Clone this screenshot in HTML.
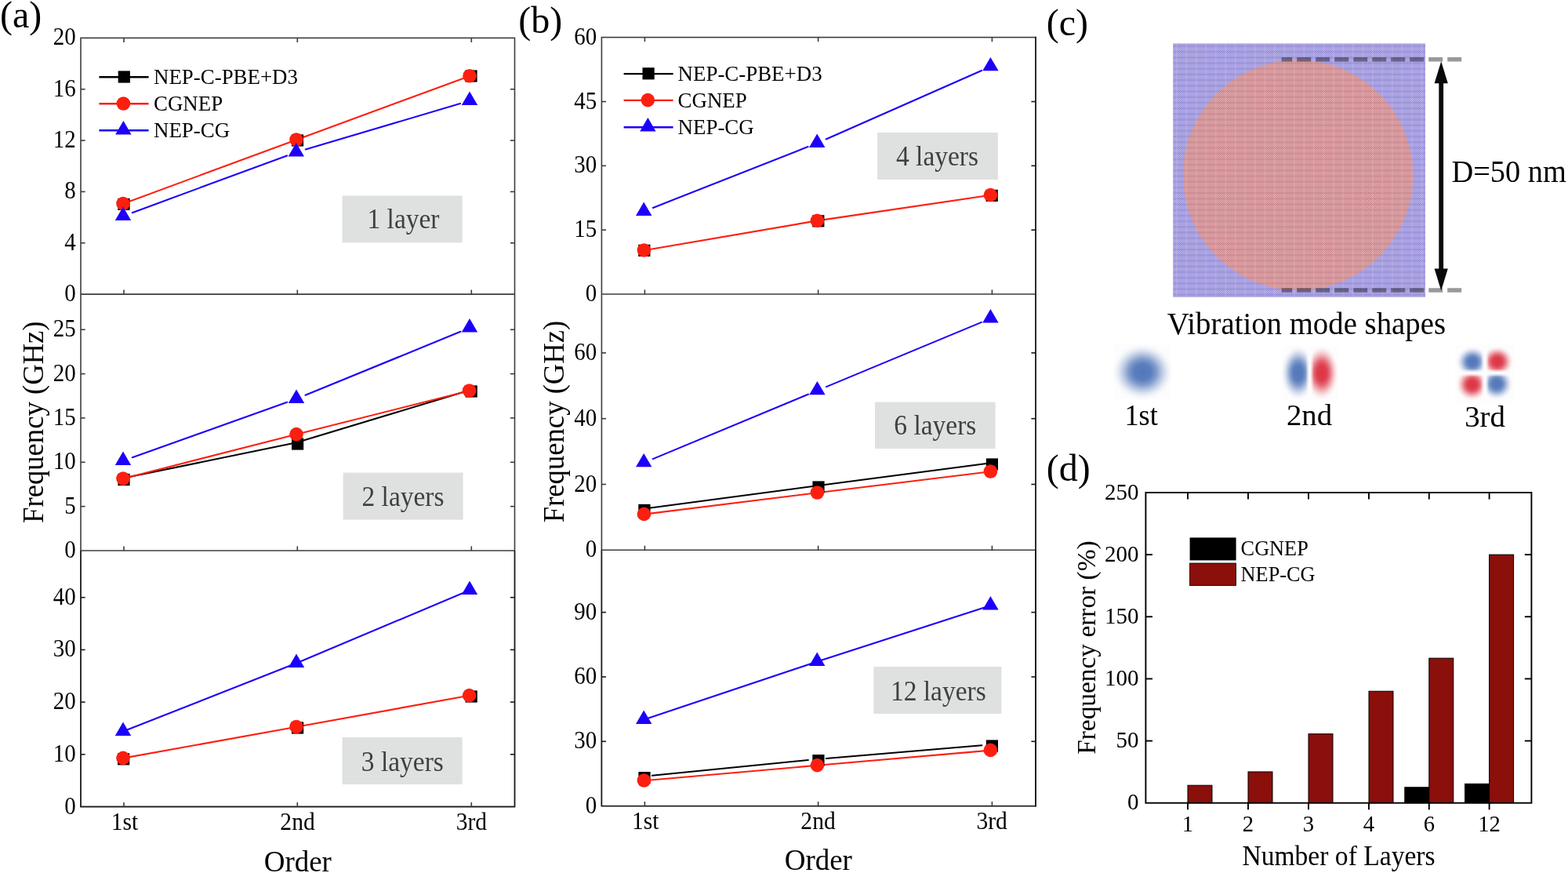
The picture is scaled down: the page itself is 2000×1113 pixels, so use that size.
<!DOCTYPE html>
<html lang="en">
<head>
<meta charset="utf-8">
<title>Figure: vibration frequencies</title>
<style>
html,body{margin:0;padding:0;background:#fff;}
body{width:2000px;height:1113px;overflow:hidden;}
svg{display:block;}
svg text{font-family:"Liberation Serif", serif;}
</style>
</head>
<body>
<svg width="2000" height="1113" viewBox="0 0 2000 1113" role="img" aria-label="Vibration frequency comparison figure">
<rect x="0" y="0" width="2000" height="1113" fill="#ffffff"/>

<defs>
<radialGradient id="gB" cx="50%" cy="50%" r="50%">
<stop offset="0" stop-color="#5277b9" stop-opacity="1"/>
<stop offset="0.28" stop-color="#5277b9" stop-opacity="0.95"/>
<stop offset="0.45" stop-color="#5277b9" stop-opacity="0.74"/>
<stop offset="0.62" stop-color="#5277b9" stop-opacity="0.42"/>
<stop offset="0.78" stop-color="#5277b9" stop-opacity="0.16"/>
<stop offset="0.9" stop-color="#5277b9" stop-opacity="0.04"/>
<stop offset="1" stop-color="#5277b9" stop-opacity="0"/>
</radialGradient>
<radialGradient id="gR" cx="50%" cy="50%" r="50%">
<stop offset="0" stop-color="#dc3444" stop-opacity="1"/>
<stop offset="0.28" stop-color="#dc3444" stop-opacity="0.95"/>
<stop offset="0.45" stop-color="#dc3444" stop-opacity="0.74"/>
<stop offset="0.62" stop-color="#dc3444" stop-opacity="0.42"/>
<stop offset="0.78" stop-color="#dc3444" stop-opacity="0.16"/>
<stop offset="0.9" stop-color="#dc3444" stop-opacity="0.04"/>
<stop offset="1" stop-color="#dc3444" stop-opacity="0"/>
</radialGradient>
<linearGradient id="nodV" x1="0" y1="0" x2="1" y2="0">
<stop offset="0" stop-color="#fdfdfe" stop-opacity="0"/>
<stop offset="0.35" stop-color="#fdfdfe" stop-opacity="0.75"/>
<stop offset="0.5" stop-color="#fdfdfe" stop-opacity="1"/>
<stop offset="0.65" stop-color="#fdfdfe" stop-opacity="0.75"/>
<stop offset="1" stop-color="#fdfdfe" stop-opacity="0"/>
</linearGradient>
<linearGradient id="nodH" x1="0" y1="0" x2="0" y2="1">
<stop offset="0" stop-color="#fdfdfe" stop-opacity="0"/>
<stop offset="0.35" stop-color="#fdfdfe" stop-opacity="0.75"/>
<stop offset="0.5" stop-color="#fdfdfe" stop-opacity="1"/>
<stop offset="0.65" stop-color="#fdfdfe" stop-opacity="0.75"/>
<stop offset="1" stop-color="#fdfdfe" stop-opacity="0"/>
</linearGradient>
<clipPath id="m2l"><rect x="1634.5" y="441" width="36" height="68.5"/></clipPath>
<clipPath id="m2r"><rect x="1670.5" y="441" width="36.3" height="68.5"/></clipPath>
<clipPath id="m3tl"><rect x="1856" y="439.5" width="38" height="36"/></clipPath>
<clipPath id="m3tr"><rect x="1894" y="439.5" width="38" height="36"/></clipPath>
<clipPath id="m3bl"><rect x="1856" y="475.5" width="38" height="38"/></clipPath>
<clipPath id="m3br"><rect x="1894" y="475.5" width="38" height="38"/></clipPath>
<pattern id="texP" width="2.5" height="2.5" patternUnits="userSpaceOnUse">
<rect x="0" y="0" width="1.25" height="1.25" fill="#5a4cc8" fill-opacity="0.42"/>
<rect x="1.25" y="1.25" width="1.25" height="1.25" fill="#5a4cc8" fill-opacity="0.42"/>
<rect x="1.25" y="0" width="1.25" height="1.25" fill="#ffffff" fill-opacity="0.40"/>
<rect x="0" y="1.25" width="1.25" height="1.25" fill="#ffffff" fill-opacity="0.40"/>
</pattern>
<pattern id="texR" width="2.5" height="2.5" patternUnits="userSpaceOnUse">
<rect x="0" y="0" width="1.25" height="1.25" fill="#a83c46" fill-opacity="0.42"/>
<rect x="1.25" y="1.25" width="1.25" height="1.25" fill="#a83c46" fill-opacity="0.42"/>
<rect x="1.25" y="0" width="1.25" height="1.25" fill="#ffffff" fill-opacity="0.40"/>
<rect x="0" y="1.25" width="1.25" height="1.25" fill="#ffffff" fill-opacity="0.40"/>
</pattern>
<pattern id="texV" width="12.5" height="7.2" patternUnits="userSpaceOnUse">
<rect x="0" y="0" width="12.5" height="2.6" fill="#1a0a60" fill-opacity="0.09"/>
<rect x="0" y="0" width="1.5" height="7.2" fill="#ffffff" fill-opacity="0.12"/>
</pattern>
<pattern id="texVR" width="12.5" height="7.2" patternUnits="userSpaceOnUse">
<rect x="0" y="0" width="12.5" height="2.6" fill="#7a1020" fill-opacity="0.09"/>
<rect x="0" y="0" width="1.5" height="7.2" fill="#ffffff" fill-opacity="0.12"/>
</pattern>
<clipPath id="sqclip"><rect x="1496.3" y="55.5" width="321.7" height="323.2"/></clipPath>
</defs>

<rect x="103.0" y="48.4" width="553.50" height="980.10" fill="none" stroke="#3c3c3c" stroke-width="1.6"/>
<line x1="103.00" y1="375.10" x2="656.50" y2="375.10" stroke="#3c3c3c" stroke-width="1.6" />
<line x1="103.00" y1="702.00" x2="656.50" y2="702.00" stroke="#3c3c3c" stroke-width="1.6" />
<path d="M103.0,702.0 L103.0,1028.5 L656.5,1028.5 L656.5,702.0" fill="none" stroke="#1a1a1a" stroke-width="1.4"/>
<line x1="158.00" y1="48.40" x2="158.00" y2="54.00" stroke="#3c3c3c" stroke-width="1.6" />
<line x1="158.00" y1="375.10" x2="158.00" y2="369.50" stroke="#3c3c3c" stroke-width="1.6" />
<line x1="158.00" y1="702.00" x2="158.00" y2="696.40" stroke="#3c3c3c" stroke-width="1.6" />
<line x1="158.00" y1="1028.50" x2="158.00" y2="1022.90" stroke="#3c3c3c" stroke-width="1.6" />
<line x1="379.30" y1="48.40" x2="379.30" y2="54.00" stroke="#3c3c3c" stroke-width="1.6" />
<line x1="379.30" y1="375.10" x2="379.30" y2="369.50" stroke="#3c3c3c" stroke-width="1.6" />
<line x1="379.30" y1="702.00" x2="379.30" y2="696.40" stroke="#3c3c3c" stroke-width="1.6" />
<line x1="379.30" y1="1028.50" x2="379.30" y2="1022.90" stroke="#3c3c3c" stroke-width="1.6" />
<line x1="601.30" y1="48.40" x2="601.30" y2="54.00" stroke="#3c3c3c" stroke-width="1.6" />
<line x1="601.30" y1="375.10" x2="601.30" y2="369.50" stroke="#3c3c3c" stroke-width="1.6" />
<line x1="601.30" y1="702.00" x2="601.30" y2="696.40" stroke="#3c3c3c" stroke-width="1.6" />
<line x1="601.30" y1="1028.50" x2="601.30" y2="1022.90" stroke="#3c3c3c" stroke-width="1.6" />
<text transform="translate(96.80,384.10) scale(0.92,1)" font-size="31.5" text-anchor="end" fill="#000" >0</text>
<line x1="103.00" y1="309.76" x2="108.60" y2="309.76" stroke="#3c3c3c" stroke-width="1.6" />
<line x1="656.50" y1="309.76" x2="650.90" y2="309.76" stroke="#3c3c3c" stroke-width="1.6" />
<text transform="translate(96.80,318.76) scale(0.92,1)" font-size="31.5" text-anchor="end" fill="#000" >4</text>
<line x1="103.00" y1="244.42" x2="108.60" y2="244.42" stroke="#3c3c3c" stroke-width="1.6" />
<line x1="656.50" y1="244.42" x2="650.90" y2="244.42" stroke="#3c3c3c" stroke-width="1.6" />
<text transform="translate(96.80,253.42) scale(0.92,1)" font-size="31.5" text-anchor="end" fill="#000" >8</text>
<line x1="103.00" y1="179.08" x2="108.60" y2="179.08" stroke="#3c3c3c" stroke-width="1.6" />
<line x1="656.50" y1="179.08" x2="650.90" y2="179.08" stroke="#3c3c3c" stroke-width="1.6" />
<text transform="translate(96.80,188.08) scale(0.92,1)" font-size="31.5" text-anchor="end" fill="#000" >12</text>
<line x1="103.00" y1="113.74" x2="108.60" y2="113.74" stroke="#3c3c3c" stroke-width="1.6" />
<line x1="656.50" y1="113.74" x2="650.90" y2="113.74" stroke="#3c3c3c" stroke-width="1.6" />
<text transform="translate(96.80,122.74) scale(0.92,1)" font-size="31.5" text-anchor="end" fill="#000" >16</text>
<text transform="translate(96.80,57.40) scale(0.92,1)" font-size="31.5" text-anchor="end" fill="#000" >20</text>
<line x1="157.00" y1="259.80" x2="378.00" y2="178.20" stroke="#fc1f10" stroke-width="2.1" stroke-linecap="round"/>
<line x1="378.00" y1="178.20" x2="599.00" y2="97.00" stroke="#fc1f10" stroke-width="2.1" stroke-linecap="round"/>
<line x1="168.73" y1="271.18" x2="366.07" y2="198.42" stroke="#1d00fa" stroke-width="2.1" stroke-linecap="round"/>
<line x1="389.78" y1="190.55" x2="587.02" y2="132.05" stroke="#1d00fa" stroke-width="2.1" stroke-linecap="round"/>
<rect x="150.40" y="252.80" width="15.2" height="15.2" fill="#000000"/>
<rect x="371.90" y="171.40" width="15.2" height="15.2" fill="#000000"/>
<rect x="593.40" y="89.40" width="15.2" height="15.2" fill="#000000"/>
<circle cx="157.00" cy="259.60" r="8.8" fill="#fc1f10"/>
<circle cx="378.00" cy="178.00" r="8.8" fill="#fc1f10"/>
<circle cx="599.00" cy="96.80" r="8.8" fill="#fc1f10"/>
<polygon points="157.00,263.50 146.80,280.90 167.20,280.90" fill="#1d00fa"/>
<polygon points="377.80,182.10 367.60,199.50 388.00,199.50" fill="#1d00fa"/>
<polygon points="599.00,116.50 588.80,133.90 609.20,133.90" fill="#1d00fa"/>
<rect x="436.6" y="249.5" width="153.10" height="59.90" fill="#dfe0e0"/>
<text transform="translate(514.50,290.80) scale(0.96,1)" font-size="34.9" text-anchor="middle" fill="#404040" >1 layer</text>
<text transform="translate(96.80,711.00) scale(0.92,1)" font-size="31.5" text-anchor="end" fill="#000" >0</text>
<line x1="103.00" y1="645.65" x2="108.60" y2="645.65" stroke="#3c3c3c" stroke-width="1.6" />
<line x1="656.50" y1="645.65" x2="650.90" y2="645.65" stroke="#3c3c3c" stroke-width="1.6" />
<text transform="translate(96.80,654.65) scale(0.92,1)" font-size="31.5" text-anchor="end" fill="#000" >5</text>
<line x1="103.00" y1="589.30" x2="108.60" y2="589.30" stroke="#3c3c3c" stroke-width="1.6" />
<line x1="656.50" y1="589.30" x2="650.90" y2="589.30" stroke="#3c3c3c" stroke-width="1.6" />
<text transform="translate(96.80,598.30) scale(0.92,1)" font-size="31.5" text-anchor="end" fill="#000" >10</text>
<line x1="103.00" y1="532.95" x2="108.60" y2="532.95" stroke="#3c3c3c" stroke-width="1.6" />
<line x1="656.50" y1="532.95" x2="650.90" y2="532.95" stroke="#3c3c3c" stroke-width="1.6" />
<text transform="translate(96.80,541.95) scale(0.92,1)" font-size="31.5" text-anchor="end" fill="#000" >15</text>
<line x1="103.00" y1="476.60" x2="108.60" y2="476.60" stroke="#3c3c3c" stroke-width="1.6" />
<line x1="656.50" y1="476.60" x2="650.90" y2="476.60" stroke="#3c3c3c" stroke-width="1.6" />
<text transform="translate(96.80,485.60) scale(0.92,1)" font-size="31.5" text-anchor="end" fill="#000" >20</text>
<line x1="103.00" y1="420.25" x2="108.60" y2="420.25" stroke="#3c3c3c" stroke-width="1.6" />
<line x1="656.50" y1="420.25" x2="650.90" y2="420.25" stroke="#3c3c3c" stroke-width="1.6" />
<text transform="translate(96.80,429.25) scale(0.92,1)" font-size="31.5" text-anchor="end" fill="#000" >25</text>
<line x1="156.40" y1="609.80" x2="378.00" y2="564.30" stroke="#000000" stroke-width="2.1" stroke-linecap="round"/>
<line x1="378.00" y1="564.30" x2="599.60" y2="497.30" stroke="#000000" stroke-width="2.1" stroke-linecap="round"/>
<line x1="157.00" y1="610.20" x2="378.00" y2="553.80" stroke="#fc1f10" stroke-width="2.1" stroke-linecap="round"/>
<line x1="378.00" y1="553.80" x2="598.60" y2="498.20" stroke="#fc1f10" stroke-width="2.1" stroke-linecap="round"/>
<line x1="168.77" y1="583.29" x2="366.23" y2="512.71" stroke="#1d00fa" stroke-width="2.1" stroke-linecap="round"/>
<line x1="389.57" y1="503.77" x2="587.43" y2="422.83" stroke="#1d00fa" stroke-width="2.1" stroke-linecap="round"/>
<rect x="150.40" y="603.90" width="15.2" height="15.2" fill="#000000"/>
<rect x="372.00" y="558.40" width="15.2" height="15.2" fill="#000000"/>
<rect x="593.60" y="491.40" width="15.2" height="15.2" fill="#000000"/>
<circle cx="157.00" cy="610.00" r="8.8" fill="#fc1f10"/>
<circle cx="378.00" cy="553.60" r="8.8" fill="#fc1f10"/>
<circle cx="598.60" cy="498.00" r="8.8" fill="#fc1f10"/>
<polygon points="157.00,575.50 146.80,592.90 167.20,592.90" fill="#1d00fa"/>
<polygon points="378.00,496.50 367.80,513.90 388.20,513.90" fill="#1d00fa"/>
<polygon points="599.00,406.10 588.80,423.50 609.20,423.50" fill="#1d00fa"/>
<rect x="437.6" y="602.6" width="153.00" height="60.00" fill="#dfe0e0"/>
<text transform="translate(514.00,645.00) scale(0.96,1)" font-size="34.9" text-anchor="middle" fill="#404040" >2 layers</text>
<text transform="translate(96.80,1037.50) scale(0.92,1)" font-size="31.5" text-anchor="end" fill="#000" >0</text>
<line x1="103.00" y1="961.80" x2="108.60" y2="961.80" stroke="#1a1a1a" stroke-width="1.6" />
<line x1="656.50" y1="961.80" x2="650.90" y2="961.80" stroke="#1a1a1a" stroke-width="1.6" />
<text transform="translate(96.80,970.80) scale(0.92,1)" font-size="31.5" text-anchor="end" fill="#000" >10</text>
<line x1="103.00" y1="895.10" x2="108.60" y2="895.10" stroke="#1a1a1a" stroke-width="1.6" />
<line x1="656.50" y1="895.10" x2="650.90" y2="895.10" stroke="#1a1a1a" stroke-width="1.6" />
<text transform="translate(96.80,904.10) scale(0.92,1)" font-size="31.5" text-anchor="end" fill="#000" >20</text>
<line x1="103.00" y1="828.40" x2="108.60" y2="828.40" stroke="#1a1a1a" stroke-width="1.6" />
<line x1="656.50" y1="828.40" x2="650.90" y2="828.40" stroke="#1a1a1a" stroke-width="1.6" />
<text transform="translate(96.80,837.40) scale(0.92,1)" font-size="31.5" text-anchor="end" fill="#000" >30</text>
<line x1="103.00" y1="761.70" x2="108.60" y2="761.70" stroke="#1a1a1a" stroke-width="1.6" />
<line x1="656.50" y1="761.70" x2="650.90" y2="761.70" stroke="#1a1a1a" stroke-width="1.6" />
<text transform="translate(96.80,770.70) scale(0.92,1)" font-size="31.5" text-anchor="end" fill="#000" >40</text>
<line x1="157.00" y1="966.60" x2="378.00" y2="926.70" stroke="#fc1f10" stroke-width="2.1" stroke-linecap="round"/>
<line x1="378.00" y1="926.70" x2="598.60" y2="886.80" stroke="#fc1f10" stroke-width="2.1" stroke-linecap="round"/>
<line x1="157.00" y1="932.50" x2="378.00" y2="845.50" stroke="#1d00fa" stroke-width="2.1" stroke-linecap="round"/>
<line x1="378.00" y1="845.50" x2="599.00" y2="752.50" stroke="#1d00fa" stroke-width="2.1" stroke-linecap="round"/>
<rect x="150.00" y="960.20" width="15.2" height="15.2" fill="#000000"/>
<rect x="372.00" y="920.40" width="15.2" height="15.2" fill="#000000"/>
<rect x="593.60" y="880.40" width="15.2" height="15.2" fill="#000000"/>
<circle cx="157.00" cy="966.40" r="8.8" fill="#fc1f10"/>
<circle cx="378.00" cy="926.50" r="8.8" fill="#fc1f10"/>
<circle cx="598.60" cy="886.60" r="8.8" fill="#fc1f10"/>
<polygon points="157.00,920.50 146.80,937.90 167.20,937.90" fill="#1d00fa"/>
<polygon points="378.00,833.50 367.80,850.90 388.20,850.90" fill="#1d00fa"/>
<polygon points="599.00,740.50 588.80,757.90 609.20,757.90" fill="#1d00fa"/>
<rect x="436.6" y="940.0" width="153.00" height="60.00" fill="#dfe0e0"/>
<text transform="translate(513.30,982.60) scale(0.96,1)" font-size="34.9" text-anchor="middle" fill="#404040" >3 layers</text>
<text transform="translate(159.00,1057.90) scale(0.94,1)" font-size="31.4" text-anchor="middle" fill="#000" >1st</text>
<text transform="translate(379.50,1057.90) scale(0.94,1)" font-size="31.4" text-anchor="middle" fill="#000" >2nd</text>
<text transform="translate(601.30,1057.90) scale(0.94,1)" font-size="31.4" text-anchor="middle" fill="#000" >3rd</text>
<text transform="translate(379.80,1110.90) scale(0.96,1)" font-size="38.54" text-anchor="middle" fill="#000" >Order</text>
<text transform="translate(55.0,538.2) rotate(-90) scale(0.965,1)" font-size="38.0" text-anchor="middle" fill="#000">Frequency (GHz)</text>
<line x1="126.40" y1="98.30" x2="189.60" y2="98.30" stroke="#000000" stroke-width="2.4" />
<rect x="150.70" y="90.40" width="15.2" height="15.2" fill="#000000"/>
<text transform="translate(196.00,107.00) scale(0.96,1)" font-size="28.02" text-anchor="start" fill="#000" >NEP-C-PBE+D3</text>
<line x1="126.40" y1="132.30" x2="189.60" y2="132.30" stroke="#fc1f10" stroke-width="2.4" />
<circle cx="157.40" cy="132.00" r="8.8" fill="#fc1f10"/>
<text transform="translate(196.00,141.00) scale(0.96,1)" font-size="28.02" text-anchor="start" fill="#000" >CGNEP</text>
<line x1="126.40" y1="166.30" x2="189.60" y2="166.30" stroke="#1d00fa" stroke-width="2.4" />
<polygon points="157.40,154.00 147.20,171.40 167.60,171.40" fill="#1d00fa"/>
<text transform="translate(196.00,175.00) scale(0.96,1)" font-size="28.02" text-anchor="start" fill="#000" >NEP-CG</text>
<text x="0.00" y="34.90" font-size="48" text-anchor="start" fill="#000" >(a)</text>
<rect x="767.4" y="47.6" width="553.60" height="980.00" fill="none" stroke="#3c3c3c" stroke-width="1.6"/>
<line x1="767.40" y1="375.00" x2="1321.00" y2="375.00" stroke="#3c3c3c" stroke-width="1.6" />
<line x1="767.40" y1="701.30" x2="1321.00" y2="701.30" stroke="#3c3c3c" stroke-width="1.6" />
<line x1="1321.00" y1="46.80" x2="1321.00" y2="1028.40" stroke="#161616" stroke-width="1.4" />
<path d="M767.4,701.3 L767.4,1027.6 L1321.0,1027.6 L1321.0,701.3" fill="none" stroke="#1a1a1a" stroke-width="1.4"/>
<line x1="822.40" y1="47.60" x2="822.40" y2="53.20" stroke="#3c3c3c" stroke-width="1.6" />
<line x1="822.40" y1="375.00" x2="822.40" y2="369.40" stroke="#3c3c3c" stroke-width="1.6" />
<line x1="822.40" y1="701.30" x2="822.40" y2="695.70" stroke="#3c3c3c" stroke-width="1.6" />
<line x1="822.40" y1="1027.60" x2="822.40" y2="1022.00" stroke="#3c3c3c" stroke-width="1.6" />
<line x1="1043.60" y1="47.60" x2="1043.60" y2="53.20" stroke="#3c3c3c" stroke-width="1.6" />
<line x1="1043.60" y1="375.00" x2="1043.60" y2="369.40" stroke="#3c3c3c" stroke-width="1.6" />
<line x1="1043.60" y1="701.30" x2="1043.60" y2="695.70" stroke="#3c3c3c" stroke-width="1.6" />
<line x1="1043.60" y1="1027.60" x2="1043.60" y2="1022.00" stroke="#3c3c3c" stroke-width="1.6" />
<line x1="1265.40" y1="47.60" x2="1265.40" y2="53.20" stroke="#3c3c3c" stroke-width="1.6" />
<line x1="1265.40" y1="375.00" x2="1265.40" y2="369.40" stroke="#3c3c3c" stroke-width="1.6" />
<line x1="1265.40" y1="701.30" x2="1265.40" y2="695.70" stroke="#3c3c3c" stroke-width="1.6" />
<line x1="1265.40" y1="1027.60" x2="1265.40" y2="1022.00" stroke="#3c3c3c" stroke-width="1.6" />
<text transform="translate(761.20,384.00) scale(0.92,1)" font-size="31.5" text-anchor="end" fill="#000" >0</text>
<line x1="767.40" y1="293.18" x2="773.00" y2="293.18" stroke="#3c3c3c" stroke-width="1.6" />
<line x1="1321.00" y1="293.18" x2="1315.40" y2="293.18" stroke="#161616" stroke-width="1.6" />
<text transform="translate(761.20,302.18) scale(0.92,1)" font-size="31.5" text-anchor="end" fill="#000" >15</text>
<line x1="767.40" y1="211.35" x2="773.00" y2="211.35" stroke="#3c3c3c" stroke-width="1.6" />
<line x1="1321.00" y1="211.35" x2="1315.40" y2="211.35" stroke="#161616" stroke-width="1.6" />
<text transform="translate(761.20,220.35) scale(0.92,1)" font-size="31.5" text-anchor="end" fill="#000" >30</text>
<line x1="767.40" y1="129.53" x2="773.00" y2="129.53" stroke="#3c3c3c" stroke-width="1.6" />
<line x1="1321.00" y1="129.53" x2="1315.40" y2="129.53" stroke="#161616" stroke-width="1.6" />
<text transform="translate(761.20,138.53) scale(0.92,1)" font-size="31.5" text-anchor="end" fill="#000" >45</text>
<text transform="translate(761.20,56.70) scale(0.92,1)" font-size="31.5" text-anchor="end" fill="#000" >60</text>
<line x1="821.40" y1="319.20" x2="1042.40" y2="281.40" stroke="#fc1f10" stroke-width="2.1" stroke-linecap="round"/>
<line x1="1042.40" y1="281.40" x2="1263.40" y2="248.80" stroke="#fc1f10" stroke-width="2.1" stroke-linecap="round"/>
<line x1="832.83" y1="264.92" x2="1030.57" y2="187.08" stroke="#1d00fa" stroke-width="2.1" stroke-linecap="round"/>
<line x1="1053.64" y1="177.45" x2="1251.96" y2="89.95" stroke="#1d00fa" stroke-width="2.1" stroke-linecap="round"/>
<rect x="814.20" y="311.80" width="15.2" height="15.2" fill="#000000"/>
<rect x="1036.20" y="274.20" width="15.2" height="15.2" fill="#000000"/>
<rect x="1257.60" y="241.80" width="15.2" height="15.2" fill="#000000"/>
<circle cx="821.40" cy="319.00" r="8.8" fill="#fc1f10"/>
<circle cx="1042.40" cy="281.20" r="8.8" fill="#fc1f10"/>
<circle cx="1263.40" cy="248.60" r="8.8" fill="#fc1f10"/>
<polygon points="821.20,257.50 811.00,274.90 831.40,274.90" fill="#1d00fa"/>
<polygon points="1042.20,170.50 1032.00,187.90 1052.40,187.90" fill="#1d00fa"/>
<polygon points="1263.40,72.90 1253.20,90.30 1273.60,90.30" fill="#1d00fa"/>
<rect x="1119.2" y="169.0" width="153.60" height="60.00" fill="#dfe0e0"/>
<text transform="translate(1195.50,211.00) scale(0.96,1)" font-size="34.9" text-anchor="middle" fill="#404040" >4 layers</text>
<text transform="translate(761.20,710.30) scale(0.92,1)" font-size="31.5" text-anchor="end" fill="#000" >0</text>
<line x1="767.40" y1="617.50" x2="773.00" y2="617.50" stroke="#3c3c3c" stroke-width="1.6" />
<line x1="1321.00" y1="617.50" x2="1315.40" y2="617.50" stroke="#161616" stroke-width="1.6" />
<text transform="translate(761.20,626.50) scale(0.92,1)" font-size="31.5" text-anchor="end" fill="#000" >20</text>
<line x1="767.40" y1="533.70" x2="773.00" y2="533.70" stroke="#3c3c3c" stroke-width="1.6" />
<line x1="1321.00" y1="533.70" x2="1315.40" y2="533.70" stroke="#161616" stroke-width="1.6" />
<text transform="translate(761.20,542.70) scale(0.92,1)" font-size="31.5" text-anchor="end" fill="#000" >40</text>
<line x1="767.40" y1="449.90" x2="773.00" y2="449.90" stroke="#3c3c3c" stroke-width="1.6" />
<line x1="1321.00" y1="449.90" x2="1315.40" y2="449.90" stroke="#161616" stroke-width="1.6" />
<text transform="translate(761.20,458.90) scale(0.92,1)" font-size="31.5" text-anchor="end" fill="#000" >60</text>
<line x1="820.30" y1="648.70" x2="1042.40" y2="619.30" stroke="#000000" stroke-width="2.1" stroke-linecap="round"/>
<line x1="1042.40" y1="619.30" x2="1263.80" y2="590.30" stroke="#000000" stroke-width="2.1" stroke-linecap="round"/>
<line x1="821.40" y1="655.60" x2="1042.40" y2="628.20" stroke="#fc1f10" stroke-width="2.1" stroke-linecap="round"/>
<line x1="1042.40" y1="628.20" x2="1263.40" y2="601.20" stroke="#fc1f10" stroke-width="2.1" stroke-linecap="round"/>
<line x1="832.74" y1="585.10" x2="1030.86" y2="502.70" stroke="#1d00fa" stroke-width="2.1" stroke-linecap="round"/>
<line x1="1053.94" y1="493.10" x2="1251.86" y2="410.90" stroke="#1d00fa" stroke-width="2.1" stroke-linecap="round"/>
<rect x="814.30" y="642.80" width="15.2" height="15.2" fill="#000000"/>
<rect x="1036.40" y="613.40" width="15.2" height="15.2" fill="#000000"/>
<rect x="1257.80" y="584.40" width="15.2" height="15.2" fill="#000000"/>
<circle cx="821.40" cy="655.40" r="8.8" fill="#fc1f10"/>
<circle cx="1042.40" cy="628.00" r="8.8" fill="#fc1f10"/>
<circle cx="1263.40" cy="601.00" r="8.8" fill="#fc1f10"/>
<polygon points="821.20,577.90 811.00,595.30 831.40,595.30" fill="#1d00fa"/>
<polygon points="1042.40,485.90 1032.20,503.30 1052.60,503.30" fill="#1d00fa"/>
<polygon points="1263.40,394.10 1253.20,411.50 1273.60,411.50" fill="#1d00fa"/>
<rect x="1116.0" y="512.6" width="153.60" height="59.40" fill="#dfe0e0"/>
<text transform="translate(1192.80,554.40) scale(0.96,1)" font-size="34.9" text-anchor="middle" fill="#404040" >6 layers</text>
<text transform="translate(761.20,1036.60) scale(0.92,1)" font-size="31.5" text-anchor="end" fill="#000" >0</text>
<line x1="767.40" y1="945.28" x2="773.00" y2="945.28" stroke="#1a1a1a" stroke-width="1.6" />
<line x1="1321.00" y1="945.28" x2="1315.40" y2="945.28" stroke="#161616" stroke-width="1.6" />
<text transform="translate(761.20,954.28) scale(0.92,1)" font-size="31.5" text-anchor="end" fill="#000" >30</text>
<line x1="767.40" y1="862.96" x2="773.00" y2="862.96" stroke="#1a1a1a" stroke-width="1.6" />
<line x1="1321.00" y1="862.96" x2="1315.40" y2="862.96" stroke="#161616" stroke-width="1.6" />
<text transform="translate(761.20,871.96) scale(0.92,1)" font-size="31.5" text-anchor="end" fill="#000" >60</text>
<line x1="767.40" y1="780.64" x2="773.00" y2="780.64" stroke="#1a1a1a" stroke-width="1.6" />
<line x1="1321.00" y1="780.64" x2="1315.40" y2="780.64" stroke="#161616" stroke-width="1.6" />
<text transform="translate(761.20,789.64) scale(0.92,1)" font-size="31.5" text-anchor="end" fill="#000" >90</text>
<line x1="831.84" y1="988.77" x2="1030.86" y2="969.03" stroke="#000000" stroke-width="2.1" stroke-linecap="round"/>
<line x1="1053.76" y1="966.94" x2="1252.34" y2="950.26" stroke="#000000" stroke-width="2.1" stroke-linecap="round"/>
<line x1="821.40" y1="995.20" x2="1042.40" y2="975.80" stroke="#fc1f10" stroke-width="2.1" stroke-linecap="round"/>
<line x1="1042.40" y1="975.80" x2="1263.40" y2="956.60" stroke="#fc1f10" stroke-width="2.1" stroke-linecap="round"/>
<line x1="821.20" y1="917.50" x2="1042.20" y2="843.50" stroke="#1d00fa" stroke-width="2.1" stroke-linecap="round"/>
<line x1="1042.20" y1="843.50" x2="1263.40" y2="772.10" stroke="#1d00fa" stroke-width="2.1" stroke-linecap="round"/>
<rect x="814.40" y="984.00" width="15.2" height="15.2" fill="#000000"/>
<rect x="1036.30" y="962.00" width="15.2" height="15.2" fill="#000000"/>
<rect x="1257.80" y="943.40" width="15.2" height="15.2" fill="#000000"/>
<circle cx="821.40" cy="995.00" r="8.8" fill="#fc1f10"/>
<circle cx="1042.40" cy="975.60" r="8.8" fill="#fc1f10"/>
<circle cx="1263.40" cy="956.40" r="8.8" fill="#fc1f10"/>
<polygon points="821.20,905.50 811.00,922.90 831.40,922.90" fill="#1d00fa"/>
<polygon points="1042.20,831.50 1032.00,848.90 1052.40,848.90" fill="#1d00fa"/>
<polygon points="1263.40,760.10 1253.20,777.50 1273.60,777.50" fill="#1d00fa"/>
<rect x="1114.4" y="850.0" width="163.00" height="60.00" fill="#dfe0e0"/>
<text transform="translate(1196.80,893.00) scale(0.96,1)" font-size="34.9" text-anchor="middle" fill="#404040" >12 layers</text>
<text transform="translate(823.30,1056.70) scale(0.94,1)" font-size="31.4" text-anchor="middle" fill="#000" >1st</text>
<text transform="translate(1043.50,1056.70) scale(0.94,1)" font-size="31.4" text-anchor="middle" fill="#000" >2nd</text>
<text transform="translate(1265.20,1056.70) scale(0.94,1)" font-size="31.4" text-anchor="middle" fill="#000" >3rd</text>
<text transform="translate(1043.80,1109.30) scale(0.96,1)" font-size="38.54" text-anchor="middle" fill="#000" >Order</text>
<text transform="translate(719.4,537.5) rotate(-90) scale(0.965,1)" font-size="38.0" text-anchor="middle" fill="#000">Frequency (GHz)</text>
<line x1="795.60" y1="94.10" x2="858.60" y2="94.10" stroke="#000000" stroke-width="2.4" />
<rect x="819.50" y="86.20" width="15.2" height="15.2" fill="#000000"/>
<text transform="translate(864.60,102.60) scale(0.96,1)" font-size="28.02" text-anchor="start" fill="#000" >NEP-C-PBE+D3</text>
<line x1="795.60" y1="127.90" x2="858.60" y2="127.90" stroke="#fc1f10" stroke-width="2.4" />
<circle cx="826.30" cy="127.60" r="8.8" fill="#fc1f10"/>
<text transform="translate(864.60,137.00) scale(0.96,1)" font-size="28.02" text-anchor="start" fill="#000" >CGNEP</text>
<line x1="795.60" y1="162.30" x2="858.60" y2="162.30" stroke="#1d00fa" stroke-width="2.4" />
<polygon points="826.40,150.00 816.20,167.40 836.60,167.40" fill="#1d00fa"/>
<text transform="translate(864.60,171.00) scale(0.96,1)" font-size="28.02" text-anchor="start" fill="#000" >NEP-CG</text>
<text x="661.20" y="42.40" font-size="48" text-anchor="start" fill="#000" >(b)</text>
<text x="1334.80" y="44.60" font-size="48" text-anchor="start" fill="#000" >(c)</text>
<rect x="1496.3" y="55.5" width="321.70" height="323.20" fill="#a8a0e3"/>
<rect x="1496.3" y="55.5" width="321.70" height="323.20" fill="url(#texP)"/>
<rect x="1496.3" y="55.5" width="321.70" height="323.20" fill="url(#texV)"/>
<ellipse cx="1655.5" cy="223.3" rx="146.8" ry="146.8" fill="#d8979b"/>
<ellipse cx="1655.5" cy="223.3" rx="146.8" ry="146.8" fill="url(#texR)"/>
<ellipse cx="1655.5" cy="223.3" rx="146.8" ry="146.8" fill="url(#texVR)"/>
<line x1="1634.7" y1="75.7" x2="1864.2" y2="75.7" stroke="#000" stroke-opacity="0.4" stroke-width="5.5" stroke-dasharray="18 6" stroke-dashoffset="4.5"/>
<line x1="1634.7" y1="370.0" x2="1864.2" y2="370.0" stroke="#000" stroke-opacity="0.4" stroke-width="5.5" stroke-dasharray="18 6" stroke-dashoffset="4.5"/>
<line x1="1838.2" y1="100" x2="1838.2" y2="348" stroke="#0a0a0a" stroke-width="5.8"/>
<polygon points="1838.2,78.3 1829.6000000000001,106.2 1846.8,106.2" fill="#0a0a0a"/>
<polygon points="1838.2,370.4 1829.6000000000001,342.6 1846.8,342.6" fill="#0a0a0a"/>
<text transform="translate(1851.50,231.90) scale(0.96,1)" font-size="40.0" text-anchor="start" fill="#000" >D=50 nm</text>
<text transform="translate(1666.30,426.30) scale(0.96,1)" font-size="40.42" text-anchor="middle" fill="#000" >Vibration mode shapes</text>
<rect x="1420.5" y="439.5" width="72.5" height="69.5" fill="#fdfdfe"/>
<ellipse cx="1457.3" cy="474.2" rx="39" ry="36" fill="url(#gB)"/>
<rect x="1634.5" y="441" width="72.3" height="68.5" fill="#fdfdfe"/>
<g clip-path="url(#m2l)"><ellipse cx="1655.8" cy="475.5" rx="22" ry="35" fill="url(#gB)"/></g>
<g clip-path="url(#m2r)"><ellipse cx="1685.8" cy="475.5" rx="22" ry="35" fill="url(#gR)"/></g>
<rect x="1665.5" y="441" width="10" height="68.5" fill="url(#nodV)"/>
<rect x="1856" y="439.5" width="76" height="74" fill="#fdfdfe"/>
<g clip-path="url(#m3tl)"><ellipse cx="1878.2" cy="461.5" rx="21" ry="20" fill="url(#gB)"/></g>
<g clip-path="url(#m3tr)"><ellipse cx="1909.8" cy="461" rx="21" ry="20" fill="url(#gR)"/></g>
<g clip-path="url(#m3bl)"><ellipse cx="1877.8" cy="490.3" rx="21" ry="21" fill="url(#gR)"/></g>
<g clip-path="url(#m3br)"><ellipse cx="1909" cy="489.3" rx="21" ry="21" fill="url(#gB)"/></g>
<rect x="1889" y="439.5" width="10" height="74" fill="url(#nodV)"/>
<rect x="1856" y="470.5" width="76" height="10" fill="url(#nodH)"/>
<text transform="translate(1455.60,542.00) scale(0.94,1)" font-size="38.6" text-anchor="middle" fill="#000" >1st</text>
<text x="1670.00" y="542.00" font-size="38.8" text-anchor="middle" fill="#000" >2nd</text>
<text x="1894.00" y="544.30" font-size="38.8" text-anchor="middle" fill="#000" >3rd</text>
<text x="1334.70" y="613.00" font-size="48" text-anchor="start" fill="#000" >(d)</text>
<rect x="1791.80" y="1003.76" width="31.0" height="19.94" fill="#000" stroke="#000" stroke-width="1"/>
<rect x="1868.60" y="999.32" width="31.0" height="24.38" fill="#000" stroke="#000" stroke-width="1"/>
<rect x="1515.00" y="1001.22" width="31.0" height="22.48" fill="#8b0f0b" stroke="#000" stroke-width="1"/>
<rect x="1592.00" y="983.97" width="31.0" height="39.73" fill="#8b0f0b" stroke="#000" stroke-width="1"/>
<rect x="1669.00" y="935.70" width="31.0" height="88.00" fill="#8b0f0b" stroke="#000" stroke-width="1"/>
<rect x="1746.00" y="881.25" width="31.0" height="142.45" fill="#8b0f0b" stroke="#000" stroke-width="1"/>
<rect x="1822.80" y="839.15" width="31.0" height="184.55" fill="#8b0f0b" stroke="#000" stroke-width="1"/>
<rect x="1899.60" y="707.14" width="31.0" height="316.56" fill="#8b0f0b" stroke="#000" stroke-width="1"/>
<rect x="1461.4" y="628.0" width="492.00" height="395.70" fill="none" stroke="#000" stroke-width="1.9"/>
<line x1="1515.00" y1="628.00" x2="1515.00" y2="636.60" stroke="#000" stroke-width="1.9" />
<line x1="1515.00" y1="1023.70" x2="1515.00" y2="1032.30" stroke="#000" stroke-width="1.9" />
<text transform="translate(1515.00,1059.80) scale(0.95,1)" font-size="30.2" text-anchor="middle" fill="#000" >1</text>
<line x1="1592.00" y1="628.00" x2="1592.00" y2="636.60" stroke="#000" stroke-width="1.9" />
<line x1="1592.00" y1="1023.70" x2="1592.00" y2="1032.30" stroke="#000" stroke-width="1.9" />
<text transform="translate(1592.00,1059.80) scale(0.95,1)" font-size="30.2" text-anchor="middle" fill="#000" >2</text>
<line x1="1669.00" y1="628.00" x2="1669.00" y2="636.60" stroke="#000" stroke-width="1.9" />
<line x1="1669.00" y1="1023.70" x2="1669.00" y2="1032.30" stroke="#000" stroke-width="1.9" />
<text transform="translate(1669.00,1059.80) scale(0.95,1)" font-size="30.2" text-anchor="middle" fill="#000" >3</text>
<line x1="1746.00" y1="628.00" x2="1746.00" y2="636.60" stroke="#000" stroke-width="1.9" />
<line x1="1746.00" y1="1023.70" x2="1746.00" y2="1032.30" stroke="#000" stroke-width="1.9" />
<text transform="translate(1746.00,1059.80) scale(0.95,1)" font-size="30.2" text-anchor="middle" fill="#000" >4</text>
<line x1="1822.80" y1="628.00" x2="1822.80" y2="636.60" stroke="#000" stroke-width="1.9" />
<line x1="1822.80" y1="1023.70" x2="1822.80" y2="1032.30" stroke="#000" stroke-width="1.9" />
<text transform="translate(1822.80,1059.80) scale(0.95,1)" font-size="30.2" text-anchor="middle" fill="#000" >6</text>
<line x1="1899.60" y1="628.00" x2="1899.60" y2="636.60" stroke="#000" stroke-width="1.9" />
<line x1="1899.60" y1="1023.70" x2="1899.60" y2="1032.30" stroke="#000" stroke-width="1.9" />
<text transform="translate(1899.60,1059.80) scale(0.95,1)" font-size="30.2" text-anchor="middle" fill="#000" >12</text>
<text transform="translate(1452.60,1032.40) scale(0.955,1)" font-size="30.4" text-anchor="end" fill="#000" >0</text>
<line x1="1461.40" y1="944.56" x2="1470.00" y2="944.56" stroke="#000" stroke-width="1.9" />
<line x1="1953.40" y1="944.56" x2="1944.80" y2="944.56" stroke="#000" stroke-width="1.9" />
<text transform="translate(1452.60,953.26) scale(0.955,1)" font-size="30.4" text-anchor="end" fill="#000" >50</text>
<line x1="1461.40" y1="865.42" x2="1470.00" y2="865.42" stroke="#000" stroke-width="1.9" />
<line x1="1953.40" y1="865.42" x2="1944.80" y2="865.42" stroke="#000" stroke-width="1.9" />
<text transform="translate(1452.60,874.12) scale(0.955,1)" font-size="30.4" text-anchor="end" fill="#000" >100</text>
<line x1="1461.40" y1="786.28" x2="1470.00" y2="786.28" stroke="#000" stroke-width="1.9" />
<line x1="1953.40" y1="786.28" x2="1944.80" y2="786.28" stroke="#000" stroke-width="1.9" />
<text transform="translate(1452.60,794.98) scale(0.955,1)" font-size="30.4" text-anchor="end" fill="#000" >150</text>
<line x1="1461.40" y1="707.14" x2="1470.00" y2="707.14" stroke="#000" stroke-width="1.9" />
<line x1="1953.40" y1="707.14" x2="1944.80" y2="707.14" stroke="#000" stroke-width="1.9" />
<text transform="translate(1452.60,715.84) scale(0.955,1)" font-size="30.4" text-anchor="end" fill="#000" >200</text>
<text transform="translate(1452.60,636.70) scale(0.955,1)" font-size="30.4" text-anchor="end" fill="#000" >250</text>
<rect x="1517.6" y="685.4" width="59" height="29" fill="#000"/>
<rect x="1517.6" y="718.0" width="59" height="28.6" fill="#8b0f0b" stroke="#000" stroke-width="0.8"/>
<text transform="translate(1582.60,708.00) scale(0.96,1)" font-size="27.4" text-anchor="start" fill="#000" >CGNEP</text>
<text transform="translate(1582.60,740.60) scale(0.96,1)" font-size="27.4" text-anchor="start" fill="#000" >NEP-CG</text>
<text transform="translate(1396.8,825.6) rotate(-90) scale(0.965,1)" font-size="34.6" text-anchor="middle" fill="#000">Frequency error (%)</text>
<text transform="translate(1707.50,1103.00) scale(0.96,1)" font-size="35.0" text-anchor="middle" fill="#000" >Number of Layers</text>
</svg>
</body>
</html>
